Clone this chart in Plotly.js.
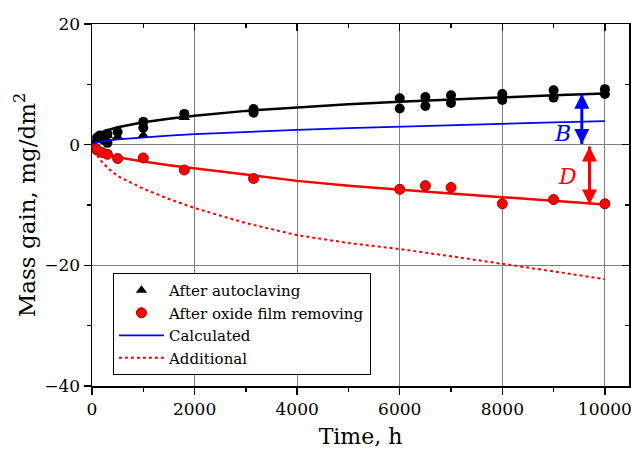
<!DOCTYPE html>
<html>
<head>
<meta charset="utf-8">
<script src="https://cdn.plot.ly/plotly-3.0.1.min.js"></script>
<style>html,body{margin:0;padding:0;background:#fff;}#chart{width:631px;height:450px;}</style>
</head>
<body>
<div id="chart"></div>
<script>
// Measured points: after autoclaving (triangles, in legend)
const autoTriT = [100, 300, 500, 1000, 1800];
const autoTriV = [0.8, 1.5, 1.3, 1.6, 4.5];
// Measured points: after autoclaving (circles, duplicates)
const autoCirT = [100, 150, 200, 300, 300, 500, 1000, 1000, 1800, 3150, 3150, 6000, 6000, 6500, 6500, 7000, 7000, 8000, 8000, 9000, 9000, 10000, 10000];
const autoCirV = [1.2, 1.5, 0.9, 1.8, 0.3, 2.1, 3.8, 2.8, 5.1, 5.9, 5.3, 7.7, 6.0, 7.9, 6.4, 8.2, 6.9, 8.4, 7.4, 9.0, 7.8, 9.2, 8.4];
// Measured points: after oxide film removing
const removT = [50, 100, 200, 300, 500, 1000, 1800, 3150, 6000, 6500, 7000, 8000, 9000, 10000];
const removV = [-0.5, -0.9, -1.3, -1.6, -2.3, -2.2, -4.2, -5.6, -7.4, -6.8, -7.1, -9.8, -9.1, -9.8];
// Curves
const curveT = [0, 50, 100, 200, 300, 500, 750, 1000, 1500, 2000, 3000, 4000, 5000, 6000, 7000, 8000, 9000, 10000];
const fitAutoV = [0, 1.2, 1.6, 2.1, 2.4, 2.9, 3.3, 3.7, 4.3, 4.8, 5.6, 6.2, 6.7, 7.1, 7.5, 7.9, 8.2, 8.5];
const fitRemovV = [0, -0.6, -0.9, -1.3, -1.6, -2.1, -2.5, -2.8, -3.4, -3.9, -5.0, -6.0, -6.8, -7.5, -8.1, -8.7, -9.3, -9.9];
const calcV = [0, 0.3, 0.4, 0.55, 0.68, 0.87, 1.05, 1.23, 1.5, 1.74, 2.13, 2.46, 2.75, 3.02, 3.26, 3.48, 3.7, 3.9];
const addV = [0, -1.0, -1.8, -2.9, -3.8, -5.2, -6.3, -7.3, -9.0, -10.5, -13.0, -15.0, -16.3, -17.3, -18.5, -19.7, -21.0, -22.3];
// Tick values and labels
const xTicks = [0, 2000, 4000, 6000, 8000, 10000];
const xTickText = ['0', '2000', '4000', '6000', '8000', '10000'];
const yTicks = [-40, -20, 0, 20];
const yTickText = ['\u221240', '\u221220', '0', '20'];
// Double arrows B and D (time, top value, bottom value)
const arrowBT = [9550, 9550];
const arrowBV = [8.45, 0.1];
const arrowDT = [9700, 9700];
const arrowDV = [-0.3, -9.9];
const labelB = {t: 9180, v: 1.8, text: 'B'};
const labelD = {t: 9280, v: -5.2, text: 'D'};

const FONT = 'DejaVu Serif, Liberation Serif, serif';

const traces = [
  {x: curveT, y: fitAutoV, mode: 'lines', line: {color: '#000', width: 2.5}, showlegend: false, hoverinfo: 'skip'},
  {x: curveT, y: fitRemovV, mode: 'lines', line: {color: '#ff0000', width: 2.5}, showlegend: false, hoverinfo: 'skip'},
  {x: autoCirT, y: autoCirV, mode: 'markers', marker: {symbol: 'circle', size: 10, color: '#000'}, showlegend: false},
  {x: autoTriT, y: autoTriV, mode: 'markers', name: 'After autoclaving', marker: {symbol: 'triangle-up', size: 10, color: '#000'}},
  {x: removT, y: removV, mode: 'markers', name: 'After oxide film removing', marker: {symbol: 'circle', size: 10, color: '#ff0000', line: {color: '#a00000', width: 1}}},
  {x: curveT, y: calcV, mode: 'lines', name: 'Calculated', line: {color: '#0000ff', width: 1.8}},
  {x: curveT, y: addV, mode: 'lines', name: 'Additional', line: {color: '#ff0000', width: 2, dash: 'dot'}},
  {x: arrowBT, y: arrowBV, mode: 'lines+markers', showlegend: false, hoverinfo: 'skip',
   line: {color: '#0000ff', width: 3}, marker: {symbol: ['arrow-up', 'arrow-down'], size: 15, color: '#0000ff'}},
  {x: arrowDT, y: arrowDV, mode: 'lines+markers', showlegend: false, hoverinfo: 'skip',
   line: {color: '#ff0000', width: 3}, marker: {symbol: ['arrow-up', 'arrow-down'], size: 15, color: '#ff0000'}},
  {x: [null], y: [null], xaxis: 'x2', yaxis: 'y2', showlegend: false, hoverinfo: 'skip'}
];

const axisCommon = {
  showline: true, linecolor: '#000', linewidth: 1.5, zeroline: false,
  tickcolor: '#000', tickwidth: 1.5, ticklen: 7, ticklabeloverflow: 'allow',
  tickfont: {family: FONT, size: 17, color: '#000'}
};

const layout = {
  width: 631, height: 450,
  margin: {l: 92, r: 2, t: 24, b: 64},
  paper_bgcolor: '#fff', plot_bgcolor: '#fff',
  font: {family: FONT, color: '#000'},
  xaxis: Object.assign({}, axisCommon, {
    range: [0, 10470], tickvals: xTicks, ticktext: xTickText, ticks: 'outside', mirror: true,
    showgrid: true, gridcolor: '#808080', gridwidth: 1, automargin: false,
    minor: {dtick: 1000, tick0: 0, ticks: 'outside', ticklen: 4, tickcolor: '#000', tickwidth: 1.5, showgrid: false},
    title: {text: 'Time, h', font: {family: FONT, size: 22, color: '#000'}, standoff: 10}
  }),
  yaxis: Object.assign({}, axisCommon, {
    range: [-40, 20], tickvals: yTicks, ticktext: yTickText, ticks: 'outside', mirror: true,
    showgrid: true, gridcolor: '#808080', gridwidth: 1, automargin: false,
    minor: {dtick: 10, tick0: 0, ticks: 'outside', ticklen: 4, tickcolor: '#000', tickwidth: 1.5, showgrid: false},
    title: {text: 'Mass gain, mg/dm<sup>2</sup>', font: {family: FONT, size: 23, color: '#000'}, standoff: 2}
  }),
  xaxis2: {
    overlaying: 'x', side: 'top', range: [0, 10470], tickvals: xTicks, ticks: 'inside', ticklen: 7,
    tickwidth: 1.5, tickcolor: '#000', showticklabels: false, showgrid: false, zeroline: false, showline: false,
    minor: {dtick: 1000, tick0: 0, ticks: 'inside', ticklen: 4, tickcolor: '#000', tickwidth: 1.5}
  },
  yaxis2: {
    overlaying: 'y', side: 'right', range: [-40, 20], tickvals: yTicks, ticks: 'inside', ticklen: 7,
    tickwidth: 1.5, tickcolor: '#000', showticklabels: false, showgrid: false, zeroline: false, showline: false,
    minor: {dtick: 10, tick0: 0, ticks: 'inside', ticklen: 4, tickcolor: '#000', tickwidth: 1.5}
  },
  legend: {
    x: 0.039, y: 0.312, xanchor: 'left', yanchor: 'top',
    bgcolor: '#fff', bordercolor: '#000', borderwidth: 1,
    font: {family: FONT, size: 15, color: '#000'},
    itemwidth: 45, tracegroupgap: 0
  },
  annotations: [
    {x: labelB.t, y: labelB.v, xref: 'x', yref: 'y', showarrow: false, text: '<i>' + labelB.text + '</i>',
     font: {family: FONT, size: 22, color: '#0000ff'}},
    {x: labelD.t, y: labelD.v, xref: 'x', yref: 'y', showarrow: false, text: '<i>' + labelD.text + '</i>',
     font: {family: FONT, size: 22, color: '#ff0000'}}
  ]
};

Plotly.newPlot('chart', traces, layout, {staticPlot: true, displayModeBar: false});
</script>
</body>
</html>
